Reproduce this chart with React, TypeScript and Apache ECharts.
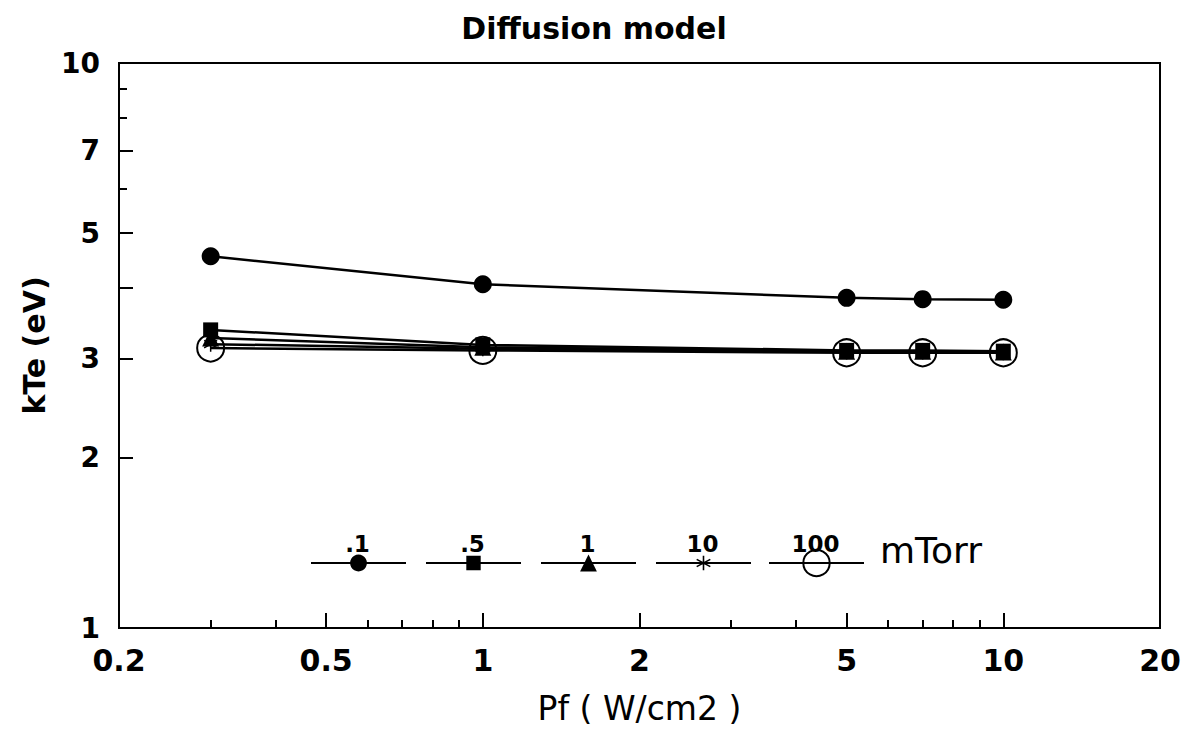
import React, { useEffect, useRef } from 'react';
import * as echarts from 'echarts';

const TITLE = 'Diffusion model';
const X_NAME = 'Pf ( W/cm2 )';
const Y_NAME = 'kTe (eV)';
const LEGEND_UNIT = 'mTorr';
const PRESSURES = ['.1', '.5', '1', '10', '100'];
const PF = [0.3, 1, 5, 7, 10];
const KTE_P01 = [4.55, 4.06, 3.84, 3.82, 3.81];
const KTE_P05 = [3.37, 3.17, 3.1, 3.1, 3.09];
const KTE_P1 = [3.26, 3.14, 3.09, 3.09, 3.08];
const KTE_P10 = [3.18, 3.12, 3.08, 3.08, 3.07];
const KTE_P100 = [3.13, 3.1, 3.07, 3.07, 3.07];
const X_LABELS = [0.2, 0.5, 1, 2, 5, 10, 20];
const X_MAJOR_TICKS = [0.5, 1, 2, 5, 10];
const X_MINOR_TICKS = [0.3, 0.4, 0.6, 0.7, 0.8, 0.9, 3, 4, 6, 7, 8, 9];
const Y_LABELS = [1, 2, 3, 5, 7, 10];
const Y_MAJOR_TICKS = [2, 3, 4, 5, 7];
const Y_MINOR_TICKS = [6, 8, 9];

const STAR =
  'path://M-1,-10 L1,-10 L1,10 L-1,10 Z M-9.16,-4.13 L-8.16,-5.87 L9.16,4.13 L8.16,5.87 Z M-8.16,5.87 L-9.16,4.13 L8.16,-5.87 L9.16,-4.13 Z';

const FONT = "'DejaVu Sans', 'Liberation Sans', Arial, sans-serif";

const fmt = (v: number) => String(Number(v.toPrecision(6)));

export default function App() {
  const ref = useRef<HTMLDivElement>(null);
  useEffect(() => {
    document.body.style.margin = '0';
    const chart = echarts.init(ref.current!, null, { renderer: 'svg' });
    const values = [KTE_P01, KTE_P05, KTE_P1, KTE_P10, KTE_P100];
    const symbols = ['circle', 'rect', 'triangle', STAR, 'circle'];
    const sizes = [18, 15, 17, 15, 27];
    const legendH = [21, 18, 21, 18, 33];
    const legendLeft = [310, 425, 540, 655, 768];
    const legendW = 95;
    const lineY = 563;

    const series = PRESSURES.map((p, i) => ({
      name: p,
      type: 'line',
      xAxisIndex: 0,
      yAxisIndex: 0,
      data: PF.map((x, j) => [x, values[i][j]]),
      symbol: symbols[i],
      symbolSize: sizes[i],
      symbolKeepAspect: true,
      showSymbol: true,
      lineStyle: { color: '#000', width: 2.5 },
      itemStyle:
        i === 4
          ? { color: 'rgba(0,0,0,0)', borderColor: '#000', borderWidth: 2 }
          : { color: '#000', borderWidth: 0 },
      emphasis: { disabled: true },
      z: 3 + i,
    }));

    const legends = PRESSURES.map((p, i) => ({
      data: [p],
      left: legendLeft[i],
      top: lineY - legendH[i] / 2,
      orient: 'horizontal',
      itemWidth: legendW,
      itemHeight: legendH[i],
      itemGap: 0,
      padding: 0,
      selectedMode: false,
      formatter: () => '',
      textStyle: { fontSize: 1 },
    }));

    const graphic: any[] = PRESSURES.map((p, i) => ({
      type: 'text',
      x: legendLeft[i] + legendW / 2,
      y: 544,
      style: {
        text: p,
        fill: '#000',
        font: `bold 23px ${FONT}`,
        textAlign: 'center',
        textVerticalAlign: 'middle',
      },
    }));
    graphic.push({
      type: 'text',
      x: 880,
      y: 550,
      style: {
        text: LEGEND_UNIT,
        fill: '#000',
        font: `36px ${FONT}`,
        textAlign: 'left',
        textVerticalAlign: 'middle',
      },
    });

    const axisBase = {
      type: 'log',
      logBase: 10,
      splitLine: { show: false },
      minorTick: { show: false },
      minorSplitLine: { show: false },
    };

    chart.setOption({
      animation: false,
      backgroundColor: '#fff',
      title: {
        text: TITLE,
        left: 'center',
        top: 13,
        padding: [0, 14, 0, 0],
        textStyle: { fontFamily: FONT, fontWeight: 'bold', fontSize: 30, color: '#000' },
      },
      grid: {
        left: 119,
        right: 28,
        top: 63,
        bottom: 102,
        show: true,
        borderColor: '#000',
        borderWidth: 2,
        backgroundColor: 'rgba(0,0,0,0)',
      },
      legend: legends,
      graphic,
      xAxis: [
        {
          ...axisBase,
          min: 0.2,
          max: 20,
          position: 'bottom',
          name: X_NAME,
          nameLocation: 'middle',
          nameGap: 64,
          nameTextStyle: { fontFamily: FONT, fontSize: 33, color: '#000' },
          axisLine: { show: true, lineStyle: { color: '#000', width: 2 } },
          axisTick: {
            show: true,
            inside: true,
            length: 15,
            customValues: X_MAJOR_TICKS,
            lineStyle: { color: '#000', width: 2 },
          },
          axisLabel: {
            show: true,
            customValues: X_LABELS,
            formatter: fmt,
            margin: 17,
            fontFamily: FONT,
            fontWeight: 'bold',
            fontSize: 30,
            color: '#000',
          },
        },
        {
          ...axisBase,
          min: 0.2,
          max: 20,
          position: 'bottom',
          axisLine: { show: false },
          axisTick: {
            show: true,
            inside: true,
            length: 8,
            customValues: X_MINOR_TICKS,
            lineStyle: { color: '#000', width: 2 },
          },
          axisLabel: { show: false },
        },
      ],
      yAxis: [
        {
          ...axisBase,
          min: 1,
          max: 10,
          position: 'left',
          name: Y_NAME,
          nameLocation: 'middle',
          nameGap: 70,
          nameRotate: 90,
          nameTextStyle: { fontFamily: FONT, fontWeight: 'bold', fontSize: 30, color: '#000' },
          axisLine: { show: true, lineStyle: { color: '#000', width: 2 } },
          axisTick: {
            show: true,
            inside: true,
            length: 14,
            customValues: Y_MAJOR_TICKS,
            lineStyle: { color: '#000', width: 2 },
          },
          axisLabel: {
            show: true,
            customValues: Y_LABELS,
            formatter: fmt,
            margin: 19,
            fontFamily: FONT,
            fontWeight: 'bold',
            fontSize: 28,
            color: '#000',
          },
        },
        {
          ...axisBase,
          min: 1,
          max: 10,
          position: 'left',
          axisLine: { show: false },
          axisTick: {
            show: true,
            inside: true,
            length: 8,
            customValues: Y_MINOR_TICKS,
            lineStyle: { color: '#000', width: 2 },
          },
          axisLabel: { show: false },
        },
      ],
      series,
    });
    return () => chart.dispose();
  }, []);
  return <div ref={ref} style={{ width: 1188, height: 730 }} />;
}
